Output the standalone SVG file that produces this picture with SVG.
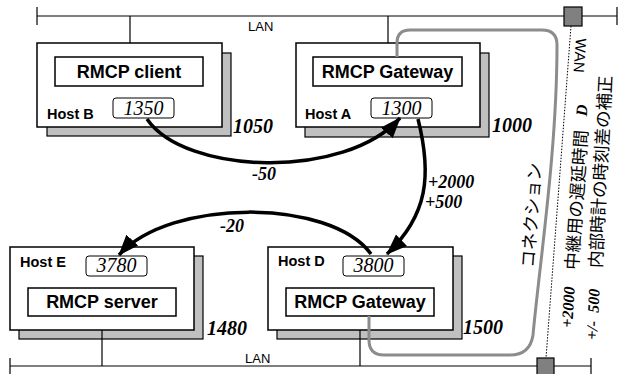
<svg xmlns="http://www.w3.org/2000/svg" width="618" height="374" viewBox="0 0 618 374">
<style>
.shadow{fill:#c0c0c0;stroke:#000;stroke-width:1.2}
.box{fill:#fff;stroke:#000;stroke-width:1.5}
.inner{fill:#fff;stroke:#000;stroke-width:1.5}
.num{fill:#fff;stroke:#000;stroke-width:1}
.line{stroke:#000;stroke-width:1.2;fill:none}
.t-big{font-family:"Liberation Sans",Arial,sans-serif;font-weight:bold;font-size:18px;text-anchor:middle}
.t-host{font-family:"Liberation Sans",Arial,sans-serif;font-weight:bold;font-size:14.5px}
.t-n{font-family:"Liberation Serif","Times New Roman",serif;font-style:italic;font-size:20px;text-anchor:middle}
.t-bn{font-family:"Liberation Serif","Times New Roman",serif;font-style:italic;font-weight:bold;font-size:20px}
.t-e{font-family:"Liberation Serif","Times New Roman",serif;font-style:italic;font-weight:bold;font-size:18px}
.t-lan{font-family:"Liberation Sans",Arial,sans-serif;font-size:13px}
.t-wan{font-family:"Liberation Sans",Arial,sans-serif;font-size:15px}
.t-jp{font-family:"Liberation Sans","Noto Sans CJK JP",sans-serif;font-size:17.5px}
.t-jn{font-family:"Liberation Serif","Times New Roman",serif;font-style:italic;font-weight:bold;font-size:16px}
.arrow{fill:none;stroke:#000;stroke-width:3.5;marker-end:url(#ah)}
.wan{fill:#808080;stroke:#000;stroke-width:1.2}
</style>
<defs>
<marker id="ah" markerUnits="userSpaceOnUse" markerWidth="24" markerHeight="18" refX="20" refY="8" orient="auto">
<path d="M0,0 L21,8 L0,16 z" fill="#000"/>
</marker>
</defs>

<g id="lan-top">
<line class="line" x1="37" y1="16" x2="617" y2="16"/>
<line class="line" x1="37" y1="7" x2="37" y2="25"/>
<line class="line" x1="617" y1="7" x2="617" y2="25"/>
<line class="line" x1="130" y1="16" x2="130" y2="43"/>
<line class="line" x1="388" y1="16" x2="388" y2="43"/>
<text class="t-lan" x="248" y="31">LAN</text>
</g>
<g id="lan-bottom">
<line class="line" x1="10" y1="366" x2="591" y2="366"/>
<line class="line" x1="10" y1="358" x2="10" y2="374"/>
<line class="line" x1="591" y1="358" x2="591" y2="374"/>
<text class="t-lan" x="245" y="363">LAN</text>
</g>

<g id="hostB">
<rect class="shadow" x="47" y="53" width="184" height="83"/>
<rect class="box" x="37" y="43" width="185" height="84"/>
<rect class="inner" x="55" y="57" width="148" height="29"/>
<text class="t-big" x="129" y="78">RMCP client</text>
<text class="t-host" x="47" y="119">Host B</text>
<rect class="num" x="113" y="98" width="61" height="20" rx="3"/>
<text class="t-n" x="143.5" y="115">1350</text>
<text class="t-bn" x="233" y="133">1050</text>
</g>

<g id="hostA">
<rect class="shadow" x="305" y="53" width="184" height="84"/>
<rect class="box" x="296" y="43" width="184" height="84"/>
<rect class="inner" x="313" y="57" width="149" height="29"/>
<text class="t-big" x="387.5" y="78">RMCP Gateway</text>
<text class="t-host" x="305" y="119">Host A</text>
<rect class="num" x="371" y="98" width="61" height="20" rx="3"/>
<text class="t-n" x="401.5" y="115">1300</text>
<text class="t-bn" x="492" y="132">1000</text>
</g>

<g id="hostE">
<rect class="shadow" x="19" y="256" width="184" height="83"/>
<rect class="box" x="10" y="247" width="184" height="83"/>
<rect class="inner" x="28" y="288" width="148" height="28"/>
<text class="t-big" x="102" y="308">RMCP server</text>
<text class="t-host" x="20" y="267">Host E</text>
<rect class="num" x="86" y="256" width="61" height="20" rx="3"/>
<text class="t-n" x="116.5" y="272">3780</text>
<text class="t-bn" x="207" y="335">1480</text>
<line class="line" x1="102" y1="330" x2="102" y2="366"/>
</g>

<g id="hostD">
<rect class="shadow" x="277" y="256" width="185" height="83"/>
<rect class="box" x="268" y="247" width="185" height="83"/>
<rect class="inner" x="286" y="288" width="148" height="28"/>
<text class="t-big" x="360" y="308">RMCP Gateway</text>
<text class="t-host" x="278" y="266">Host D</text>
<rect class="num" x="343" y="256" width="61" height="20" rx="3"/>
<text class="t-n" x="373.5" y="272">3800</text>
<text class="t-bn" x="463" y="334">1500</text>
<line class="line" x1="360" y1="330" x2="360" y2="366"/>
</g>

<g id="wan">
<line x1="571" y1="26" x2="546" y2="358" stroke="#000" stroke-width="1" stroke-dasharray="1.5,1.5"/>
<rect class="wan" x="564" y="7" width="18" height="19"/>
<rect class="wan" x="537" y="358" width="17" height="18"/>
<text class="t-wan" transform="translate(576,38) rotate(94)">WAN</text>
</g>

<g id="connection">
<path d="M369,316 L369,340 Q369,355 384,355 L510,355 Q530,355 533,335 C540,260 557,150 557,45 Q557,30 542,30 L410,30 Q397,30 397,43 L397,57" fill="none" stroke="#8c8c8c" stroke-width="3"/>
<text class="t-jp" transform="translate(534,268) rotate(-86)">コネクション</text>
</g>

<g id="notes">
<text transform="translate(572,328) rotate(-86)"><tspan class="t-jn" x="0" y="0">+2000</tspan><tspan class="t-jp" x="58" y="2">中継用の遅延時間</tspan><tspan class="t-jn" x="212" y="0">D</tspan></text>
<text transform="translate(597,340) rotate(-87)"><tspan class="t-jn" x="0" y="0">+/-</tspan><tspan class="t-jn" x="27" y="0">500</tspan><tspan class="t-jp" x="72" y="1">内部時計の時刻差の補正</tspan></text>
</g>

<g id="connectors">
<path class="arrow" d="M147,119 C185,175 345,180 400,118"/>
<path class="arrow" d="M418,119 C432,175 428,215 387,254"/>
<path class="arrow" d="M371,254 C330,198 170,198 119,255"/>
<text class="t-e" x="252" y="180">-50</text>
<text class="t-e" x="428" y="188">+2000</text>
<text class="t-e" x="425" y="208">+500</text>
<text class="t-e" x="220" y="232">-20</text>
</g>
</svg>
